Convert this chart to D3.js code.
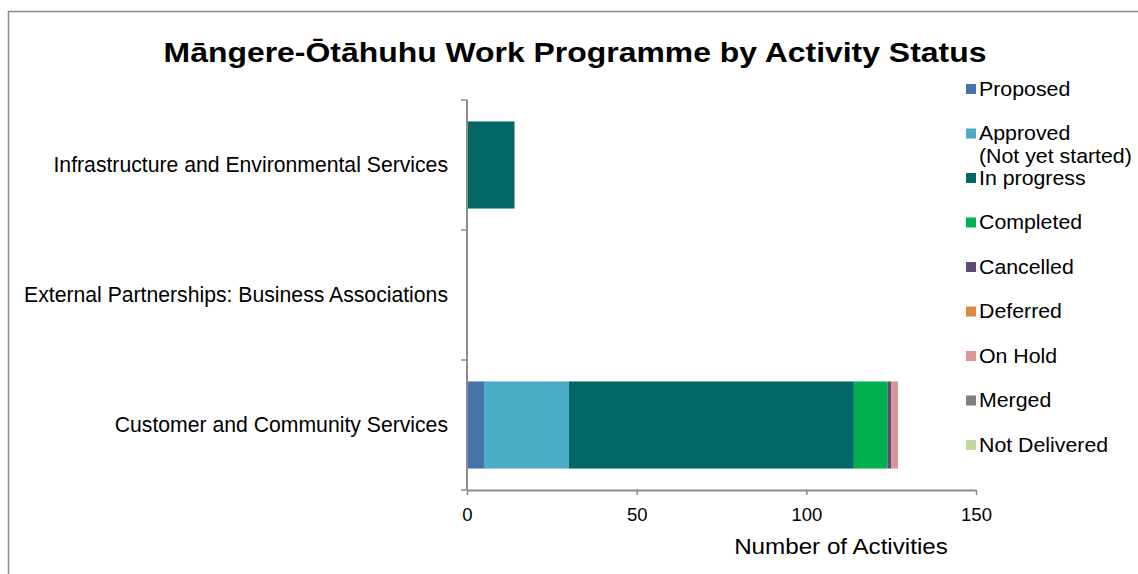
<!DOCTYPE html>
<html>
<head>
<meta charset="utf-8">
<script src="https://cdn.jsdelivr.net/npm/d3@7"></script>
<style>
  body { margin: 0; background: #fff; }
  svg { display: block; font-family: "Liberation Sans", Arial, sans-serif; }
</style>
</head>
<body>
<svg id="drawing_region"></svg>
<script>
// categories, top to bottom
const categories = [
    "Infrastructure and Environmental Services",
    "External Partnerships: Business Associations",
    "Customer and Community Services"
];
const statuses = ["Proposed", "Approved\n(Not yet started)", "In progress", "Completed",
    "Cancelled", "Deferred", "On Hold", "Merged", "Not Delivered"];
const colors = ["#4573A7", "#4BACC6", "#026766", "#00B050", "#604A7B",
    "#DE8840", "#D99694", "#7F7F7F", "#C3D69B"];

// counts per status, one array per category
const infraValues    = [0, 0, 14, 0, 0, 0, 0, 0, 0];
const externalValues = [0, 0, 0, 0, 0, 0, 0, 0, 0];
const customerValues = [5, 25, 84, 10, 1, 0, 2, 0, 0];
const xTicks = [0, 50, 100, 150];

const values = [infraValues, externalValues, customerValues];
const data = categories.map((c, i) => {
    const row = {category: c};
    statuses.forEach((s, j) => row[s] = values[i][j]);
    return row;
});

const config = {
    width: 1138,
    height: 574,
    margin: {top: 100, right: 162, bottom: 84, left: 467}
};

// the original title/legend text is a little wider than Liberation Sans
const stretch = 1.12;

const svg = d3.select("#drawing_region")
    .attr("width", config.width)
    .attr("height", config.height);

// outer frame (runs off the right and bottom)
svg.append("rect")
    .attr("x", 8.5).attr("y", 11.5)
    .attr("width", 1200).attr("height", 700)
    .attr("fill", "none")
    .attr("stroke", "#8c8c8c")
    .attr("stroke-width", 1.5);

svg.append("text")
    .attr("transform", `translate(575,62) scale(${stretch},1)`)
    .attr("text-anchor", "middle")
    .attr("font-size", 28.5)
    .attr("font-weight", "bold")
    .text("Māngere-Ōtāhuhu Work Programme by Activity Status");

const chart = svg.append("g")
    .attr("transform", `translate(${config.margin.left},${config.margin.top})`);

const inner_width = 976 - config.margin.left;
const inner_height = 490 - config.margin.top;

const xscale = d3.scaleLinear().domain([0, 150]).range([0, inner_width]);
const yscale = d3.scaleBand().domain(categories).range([0, inner_height]).paddingInner(0.33).paddingOuter(0.165);

const stack = d3.stack().keys(statuses);
const series = stack(data);

chart.selectAll("g.series")
    .data(series)
    .enter()
    .append("g")
    .attr("class", "series")
    .attr("fill", (d, i) => colors[i])
    .selectAll("rect")
    .data(d => d)
    .enter()
    .append("rect")
    .attr("x", d => xscale(d[0]))
    .attr("y", d => yscale(d.data.category))
    .attr("width", d => xscale(d[1]) - xscale(d[0]))
    .attr("height", yscale.bandwidth());

// y axis with category separators
const yAxisG = chart.append("g");
yAxisG.append("line")
    .attr("x1", 0).attr("x2", 0)
    .attr("y1", 0).attr("y2", inner_height)
    .attr("stroke", "#8c8c8c").attr("stroke-width", 2);
const step = inner_height / categories.length;
yAxisG.selectAll("line.tick")
    .data(d3.range(categories.length + 1))
    .enter()
    .append("line")
    .attr("x1", -6).attr("x2", 0)
    .attr("y1", d => d * step).attr("y2", d => d * step)
    .attr("stroke", "#8c8c8c").attr("stroke-width", 1.5);
yAxisG.selectAll("text")
    .data(categories)
    .enter()
    .append("text")
    .attr("x", -19)
    .attr("y", d => yscale(d) + yscale.bandwidth() / 2)
    .attr("dy", "0.35em")
    .attr("text-anchor", "end")
    .attr("font-size", 21.2)
    .text(d => d);

// x axis
const xAxisG = chart.append("g")
    .attr("transform", `translate(0,${inner_height})`)
    .call(d3.axisBottom(xscale).tickValues(xTicks).tickSize(5).tickSizeOuter(0).tickPadding(13));
xAxisG.select(".domain").attr("stroke", "#8c8c8c").attr("stroke-width", 2);
xAxisG.selectAll(".tick line").attr("stroke", "#8c8c8c").attr("stroke-width", 1.5);
xAxisG.selectAll(".tick text")
    .attr("font-size", 18.5)
    .attr("font-family", "Liberation Sans, Arial, sans-serif")
    .attr("fill", "#000");

svg.append("text")
    .attr("transform", `translate(841,554) scale(1.1,1)`)
    .attr("text-anchor", "middle")
    .attr("font-size", 22)
    .text("Number of Activities");

// legend
const legend = svg.append("g").attr("transform", "translate(966,89)");
const legendItems = legend.selectAll("g")
    .data(statuses)
    .enter()
    .append("g")
    .attr("transform", (d, i) => `translate(0,${i * 44.5})`);
legendItems.append("rect")
    .attr("x", 0).attr("y", -5)
    .attr("width", 10).attr("height", 10)
    .attr("fill", (d, i) => colors[i]);
legendItems.append("text")
    .attr("transform", "translate(13,0) scale(1.094,1)")
    .attr("font-size", 19.5)
    .each(function(d) {
        const lines = d.split("\n");
        d3.select(this).selectAll("tspan")
            .data(lines)
            .enter()
            .append("tspan")
            .attr("x", 0)
            .attr("dy", (l, k) => k === 0 ? "0.35em" : "1.15em")
            .text(l => l);
    });
</script>
</body>
</html>
